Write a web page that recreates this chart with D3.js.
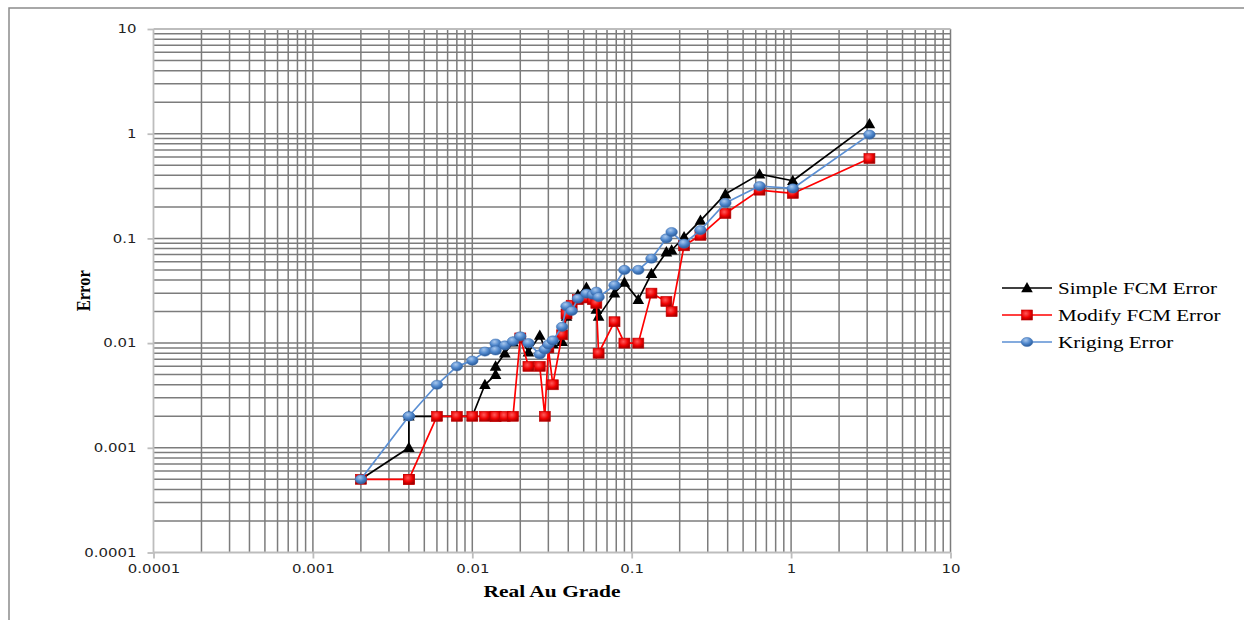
<!DOCTYPE html>
<meta charset="utf-8">
<style>
body { margin: 0; background: #fff; }
.grid line { stroke: #7c7c7c; stroke-width: 1.5px; }
.axis path, .axis line { stroke: #bdbdbd; stroke-width: 1.8px; fill: none; }
.axis text { font-family: "DejaVu Sans", sans-serif; font-size: 11.5px; fill: #222; }
.title { font-family: "Liberation Serif", serif; font-weight: bold; font-size: 16.5px; fill: #000; }
.legend text { font-family: "Liberation Serif", serif; font-size: 17px; fill: #000; }
</style>
<body>
<script src="https://d3js.org/d3.v7.min.js"></script>
<script>

// Real Au grade of each sample and the three error series
var grade = [0.002, 0.004, 0.004, 0.006, 0.008, 0.010, 0.012, 0.014, 0.014, 0.016,
  0.018, 0.020, 0.0225, 0.0265, 0.0285, 0.030, 0.032, 0.0366, 0.039, 0.042,
  0.046, 0.052, 0.057, 0.060, 0.062, 0.078, 0.090, 0.110, 0.133,
  0.165, 0.178, 0.213, 0.270, 0.387, 0.634, 1.025, 3.10];

var simpleErr = [0.0005, 0.001, 0.002, 0.002, 0.002, 0.002, 0.004, 0.005, 0.006, 0.008,
  0.0102, 0.0112, 0.0082, 0.0118, 0.0090, 0.0092, 0.0098, 0.0103, 0.018, 0.022,
  0.029, 0.034, 0.029, 0.021, 0.018, 0.030, 0.038, 0.026, 0.046,
  0.074, 0.077, 0.103, 0.148, 0.265, 0.411, 0.355, 1.24];

var modifyErr = [0.0005, 0.0005, 0.0005, 0.002, 0.002, 0.002, 0.002, 0.002, 0.002, 0.002,
  0.002, 0.0112, 0.006, 0.006, 0.002, 0.009, 0.004, 0.012, 0.019, 0.023,
  0.026, 0.027, 0.026, 0.024, 0.008, 0.016, 0.010, 0.010, 0.030,
  0.025, 0.020, 0.085, 0.107, 0.173, 0.289, 0.269, 0.58];

var krigingErr = [0.0005, 0.002, 0.002, 0.004, 0.006, 0.0068, 0.0083, 0.0099, 0.0085, 0.0095,
  0.0104, 0.0116, 0.0100, 0.0078, 0.0087, 0.0097, 0.0106, 0.0143, 0.0225, 0.0203,
  0.0266, 0.0297, 0.029, 0.031, 0.0275, 0.0357, 0.050, 0.050, 0.064,
  0.100, 0.115, 0.089, 0.120, 0.218, 0.316, 0.300, 0.98];

var seriesNames = ["Simple FCM Error", "Modify FCM Error", "Kriging Error"];
var axisTicks = [0.0001, 0.001, 0.01, 0.1, 1, 10];

var W = 1244, H = 620;
var pLeft = 153.5, pRight = 950.5, pTop = 29, pBottom = 552.5;
var stretch = 1.3; // the original picture is widened horizontally

var svg = d3.select("body").append("svg")
    .attr("width", W)
    .attr("height", H);

var defs = svg.append("defs");
var rg = defs.append("radialGradient").attr("id", "redG").attr("cx", "40%").attr("cy", "35%").attr("r", "70%");
rg.append("stop").attr("offset", "0%").attr("stop-color", "#ff5a5a");
rg.append("stop").attr("offset", "60%").attr("stop-color", "#ee0000");
rg.append("stop").attr("offset", "100%").attr("stop-color", "#a00000");
var bg = defs.append("radialGradient").attr("id", "blueG").attr("cx", "40%").attr("cy", "30%").attr("r", "70%");
bg.append("stop").attr("offset", "0%").attr("stop-color", "#a9c8ee");
bg.append("stop").attr("offset", "55%").attr("stop-color", "#4f87cc");
bg.append("stop").attr("offset", "100%").attr("stop-color", "#2a5a98");

// outer frame
svg.append("rect")
    .attr("x", 9).attr("y", 8)
    .attr("width", 1300).attr("height", 700)
    .attr("fill", "none")
    .attr("stroke", "#8c8c8c")
    .attr("stroke-width", 1.5);

var x = d3.scaleLog().domain([0.0001, 10]).range([pLeft, pRight]);
var y = d3.scaleLog().domain([0.0001, 10]).range([pBottom, pTop]);

// minor + major gridlines: 1..9 in every decade
var gridVals = [];
for (var e = -4; e < 1; e++) {
  for (var k = 1; k <= 9; k++) gridVals.push(k * Math.pow(10, e));
}
gridVals.push(10);

var grid = svg.append("g").attr("class", "grid");
grid.selectAll(".gx").data(gridVals.slice(1)).enter().append("line")
    .attr("x1", function(d) { return x(d); })
    .attr("x2", function(d) { return x(d); })
    .attr("y1", pTop).attr("y2", pBottom);
grid.selectAll(".gy").data(gridVals.slice(1, -1)).enter().append("line")
    .attr("y1", function(d) { return y(d); })
    .attr("y2", function(d) { return y(d); })
    .attr("x1", pLeft).attr("x2", pRight);
// top edge is lighter like the axes
svg.append("line")
    .attr("x1", pLeft).attr("x2", pRight).attr("y1", pTop).attr("y2", pTop)
    .attr("stroke", "#bdbdbd").attr("stroke-width", 1.8);

// axes
var fmt = function(d) { return String(d); };
var xAxis = svg.append("g").attr("class", "axis")
    .attr("transform", "translate(0," + pBottom + ")")
    .call(d3.axisBottom(x).tickValues(axisTicks).tickFormat(fmt).tickSize(6).tickSizeOuter(0).tickPadding(6));
xAxis.selectAll("text").attr("transform", "scale(" + stretch + ",1)");

var yAxis = svg.append("g").attr("class", "axis")
    .attr("transform", "translate(" + pLeft + ",0)")
    .call(d3.axisLeft(y).tickValues(axisTicks).tickFormat(fmt).tickSize(6).tickSizeOuter(0).tickPadding(7));
yAxis.selectAll("text").attr("transform", "scale(" + stretch + ",1)");
xAxis.select(".domain").attr("d", "M" + pLeft + ",0H" + pRight);
yAxis.select(".domain").attr("d", "M0," + pTop + "V" + pBottom);

// axis titles
svg.append("text").attr("class", "title")
    .attr("transform", "translate(" + ((pLeft + pRight) / 2) + ",597) scale(1.3,1)")
    .attr("text-anchor", "middle")
    .text("Real Au Grade");
svg.append("text").attr("class", "title")
    .attr("transform", "translate(90," + ((pTop + pBottom) / 2) + ") rotate(-90) scale(1,1.2)")
    .attr("text-anchor", "middle")
    .text("Error");

// series
function rows(vals) {
  return grade.map(function(g, i) { return {x: g, y: vals[i]}; });
}
var series = [
  {name: seriesNames[0], data: rows(simpleErr), color: "#000000", marker: "tri"},
  {name: seriesNames[1], data: rows(modifyErr), color: "#ff0000", marker: "sq"},
  {name: seriesNames[2], data: rows(krigingErr), color: "#5b8fd3", marker: "dot"}
];

var line = d3.line()
    .x(function(d) { return x(d.x); })
    .y(function(d) { return y(d.y); });

function drawMarker(g, type) {
  if (type === "tri") {
    g.append("path").attr("d", "M0,-6L5.8,4.3L-5.8,4.3Z").attr("fill", "#000");
  } else if (type === "sq") {
    g.append("rect").attr("x", -5.5).attr("y", -5).attr("width", 11).attr("height", 10)
        .attr("fill", "url(#redG)").attr("stroke", "#c00000").attr("stroke-width", 0.6);
  } else {
    g.append("ellipse").attr("rx", 5.8).attr("ry", 4.6)
        .attr("fill", "url(#blueG)").attr("stroke", "#3c6fb0").attr("stroke-width", 0.5);
  }
}

series.forEach(function(s) {
  svg.append("path")
      .datum(s.data)
      .attr("fill", "none")
      .attr("stroke", s.color)
      .attr("stroke-width", 1.7)
      .attr("stroke-linejoin", "round")
      .attr("d", line);
  s.data.forEach(function(d) {
    var m = svg.append("g").attr("transform", "translate(" + x(d.x) + "," + y(d.y) + ")");
    drawMarker(m, s.marker);
  });
});

// legend
var legend = svg.append("g").attr("class", "legend");
series.forEach(function(s, i) {
  var ly = 288 + i * 27;
  legend.append("line")
      .attr("x1", 1002).attr("x2", 1052).attr("y1", ly).attr("y2", ly)
      .attr("stroke", s.color).attr("stroke-width", 1.3);
  var m = legend.append("g").attr("transform", "translate(1027," + ly + ")");
  drawMarker(m, s.marker);
  legend.append("text")
      .attr("transform", "translate(1058," + ly + ") scale(1.24,1)")
      .attr("dy", "0.35em")
      .text(s.name);
});

</script>
</body>
